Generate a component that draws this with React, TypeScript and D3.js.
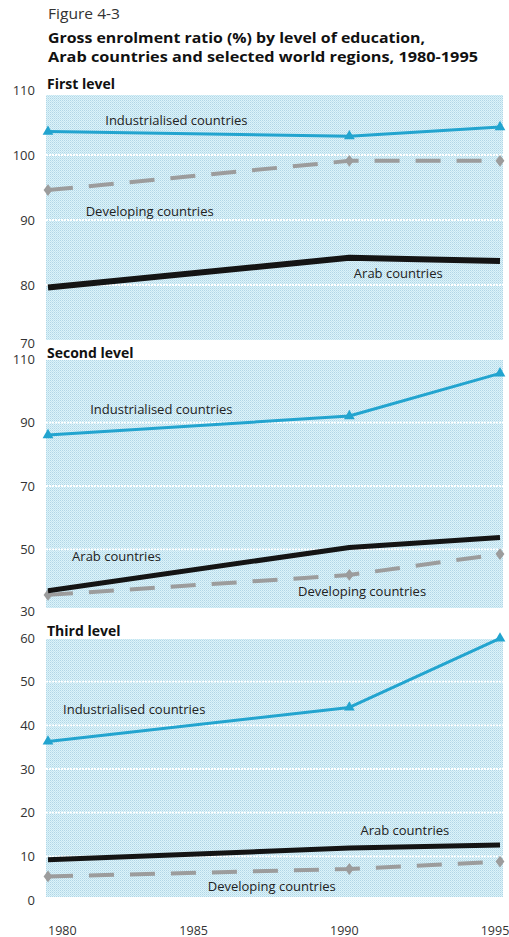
import React from "react";
import * as d3 from "d3";

const years = [1980, 1990, 1995];
const xTickYears = [1980, 1985, 1990, 1995];

// First level
const firstIndustrialised = [103.6, 102.9, 104.3];
const firstDeveloping = [94.6, 99.1, 99.1];
const firstArab = [79.6, 84.2, 83.7];
const firstTicks = [110, 100, 90, 80, 70];

// Second level
const secondIndustrialised = [86.1, 92.1, 105.6];
const secondDeveloping = [35.6, 41.9, 48.5];
const secondArab = [36.9, 50.6, 53.7];
const secondTicks = [110, 90, 70, 50, 30];

// Third level
const thirdIndustrialised = [36.3, 44.1, 59.9];
const thirdDeveloping = [5.4, 7.1, 8.8];
const thirdArab = [9.2, 11.9, 12.6];
const thirdTicks = [60, 50, 40, 30, 20, 10, 0];

const titleFigure = "Figure 4-3";
const titleLine1 = "Gross enrolment ratio (%) by level of education,";
const titleLine2 = "Arab countries and selected world regions, 1980-1995";

const W = 509;
const H = 937;
const FONT = "'Open Sans', 'Noto Sans', sans-serif";
const IND_COLOR = "#22a4cf";
const DEV_COLOR = "#9c9c9c";
const ARAB_COLOR = "#141414";

const x = d3.scaleLinear().domain([1980, 1995]).range([48, 500]);

type LabelPos = { year: number; value: number };
type Panel = {
  name: string;
  ticks: number[];
  domain: [number, number];
  range: [number, number];
  rect: [number, number];
  titleY: number;
  ind: number[];
  dev: number[];
  arab: number[];
  arabWidth: number;
  labels: { ind: LabelPos; dev: LabelPos; arab: LabelPos };
};

const panels: Panel[] = [
  {
    name: "First level",
    ticks: firstTicks,
    domain: [70, 110],
    range: [350, 90],
    rect: [95, 340],
    titleY: 89,
    ind: firstIndustrialised,
    dev: firstDeveloping,
    arab: firstArab,
    arabWidth: 6,
    labels: {
      ind: { year: 1981.9, value: 104.6 },
      dev: { year: 1981.25, value: 90.6 },
      arab: { year: 1990.15, value: 81.1 },
    },
  },
  {
    name: "Second level",
    ticks: secondTicks,
    domain: [30, 110],
    range: [612.6, 359.4],
    rect: [360, 608],
    titleY: 358,
    ind: secondIndustrialised,
    dev: secondDeveloping,
    arab: secondArab,
    arabWidth: 5,
    labels: {
      ind: { year: 1981.4, value: 92.75 },
      dev: { year: 1988.3, value: 35.2 },
      arab: { year: 1980.8, value: 46.3 },
    },
  },
  {
    name: "Third level",
    ticks: thirdTicks,
    domain: [0, 60],
    range: [900, 638],
    rect: [639, 897],
    titleY: 636,
    ind: thirdIndustrialised,
    dev: thirdDeveloping,
    arab: thirdArab,
    arabWidth: 5,
    labels: {
      ind: { year: 1980.5, value: 42.6 },
      dev: { year: 1985.3, value: 2.1 },
      arab: { year: 1990.37, value: 14.9 },
    },
  },
];

const triangle = d3.symbol().type(d3.symbolTriangle).size(50)() as string;
const diamond = d3.symbol().type(d3.symbolDiamond).size(40)() as string;

function PanelView({ p }: { p: Panel }) {
  const y = d3.scaleLinear().domain(p.domain).range(p.range);
  const line = d3
    .line<number>()
    .x((_, i) => x(years[i]))
    .y((v) => y(v));
  const [top, bottom] = p.rect;
  const left = 46;
  const right = 503;
  const gridTicks = p.ticks.filter((t) => y(t) > top + 2 && y(t) < bottom - 2);
  const label = (pos: LabelPos, text: string) => (
    <text
      x={x(pos.year)}
      y={y(pos.value)}
      fontFamily={FONT}
      fontSize={13}
      fill="#222"
    >
      {text}
    </text>
  );
  return (
    <g>
      <rect
        x={left}
        y={top}
        width={right - left}
        height={bottom - top}
        fill="url(#dots)"
      />
      {gridTicks.map((t) => (
        <line
          key={t}
          x1={left}
          x2={right}
          y1={y(t)}
          y2={y(t)}
          stroke="#ffffff"
          strokeWidth={1.8}
          strokeDasharray="2 1"
        />
      ))}
      {p.ticks.map((t) => (
        <text
          key={t}
          x={35}
          y={Math.min(y(t), bottom + 3)}
          dy="0.36em"
          textAnchor="end"
          fontFamily={FONT}
          fontSize={13}
          fill="#333"
        >
          {t}
        </text>
      ))}
      <text
        x={47}
        y={p.titleY}
        fontFamily={FONT}
        fontSize={14}
        fontWeight="bold"
        fill="#111"
      >
        {p.name}
      </text>
      <path
        d={line(p.dev) as string}
        fill="none"
        stroke={DEV_COLOR}
        strokeWidth={4}
        strokeDasharray="25 16"
      />
      {p.dev.map((v, i) => (
        <path
          key={i}
          d={diamond}
          transform={`translate(${x(years[i])},${y(v)}) scale(1.3,1)`}
          fill={DEV_COLOR}
        />
      ))}
      <path
        d={line(p.arab) as string}
        fill="none"
        stroke={ARAB_COLOR}
        strokeWidth={p.arabWidth}
        strokeLinejoin="round"
      />
      <path
        d={line(p.ind) as string}
        fill="none"
        stroke={IND_COLOR}
        strokeWidth={3}
        strokeLinejoin="round"
      />
      {p.ind.map((v, i) => (
        <path
          key={i}
          d={triangle}
          transform={`translate(${x(years[i])},${y(v)})`}
          fill={IND_COLOR}
        />
      ))}
      {label(p.labels.ind, "Industrialised countries")}
      {label(p.labels.dev, "Developing countries")}
      {label(p.labels.arab, "Arab countries")}
    </g>
  );
}

export default function App() {
  return (
    <svg
      width={W}
      height={H}
      viewBox={`0 0 ${W} ${H}`}
      style={{ position: "absolute", left: 0, top: 0, background: "#fff" }}
    >
      <defs>
        <pattern id="dots" width={2} height={2} patternUnits="userSpaceOnUse">
          <rect width={2} height={2} fill="#dcf3fa" />
          <rect x={0} y={0} width={1} height={1} fill="#b2d6e6" />
          <rect x={1} y={1} width={1} height={1} fill="#c4e4ef" />
        </pattern>
      </defs>
      <rect width={W} height={H} fill="#fff" />
      <text
        x={48}
        y={19}
        fontFamily={FONT}
        fontSize={14}
        fill="#333"
        textLength={72}
        lengthAdjust="spacingAndGlyphs"
      >
        {titleFigure}
      </text>
      <text
        x={48}
        y={43}
        fontFamily={FONT}
        fontSize={14}
        fontWeight="bold"
        fill="#111"
        textLength={377}
        lengthAdjust="spacingAndGlyphs"
      >
        {titleLine1}
      </text>
      <text
        x={48}
        y={62}
        fontFamily={FONT}
        fontSize={14}
        fontWeight="bold"
        fill="#111"
        textLength={430}
        lengthAdjust="spacingAndGlyphs"
      >
        {titleLine2}
      </text>
      {panels.map((p) => (
        <PanelView key={p.name} p={p} />
      ))}
      {xTickYears.map((yr, i) => (
        <text
          key={yr}
          x={i === 0 ? x(yr) : x(yr) - 5}
          y={930}
          dy="0.36em"
          textAnchor={i === 0 ? "start" : "middle"}
          fontFamily={FONT}
          fontSize={12.5}
          fill="#333"
        >
          {yr}
        </text>
      ))}
    </svg>
  );
}
